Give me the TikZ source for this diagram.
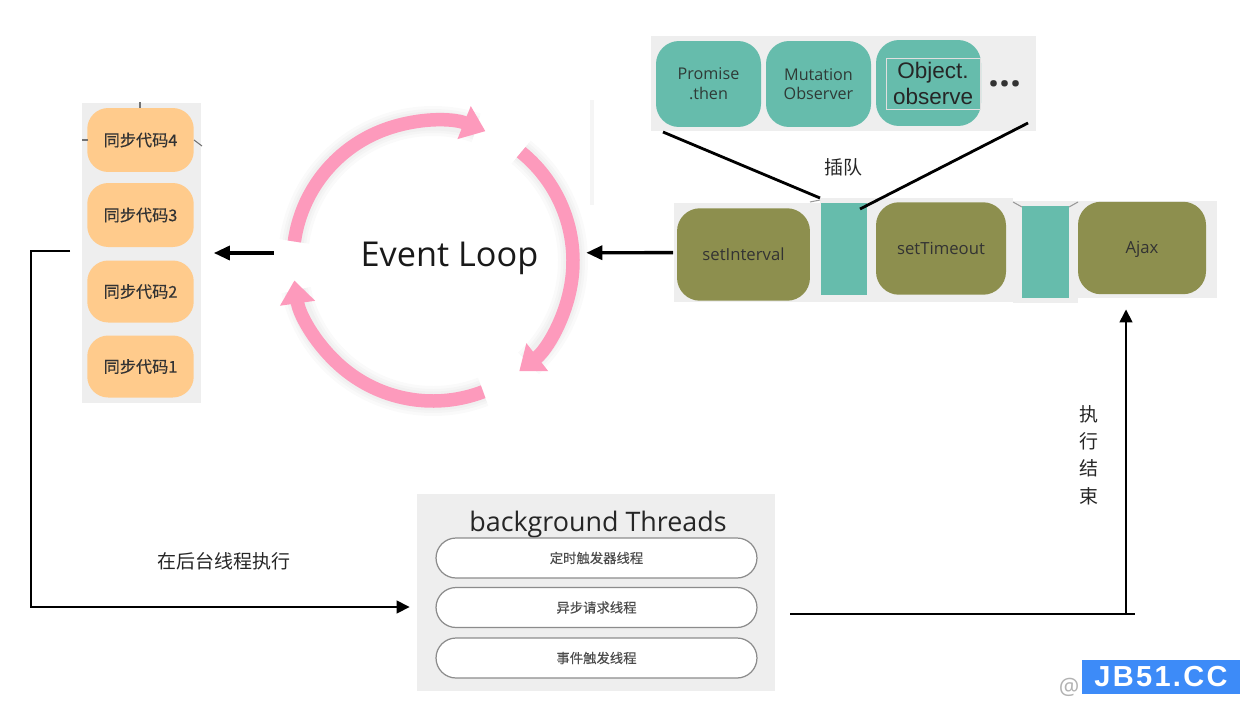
\documentclass[tikz,border=0pt]{standalone}
\usepackage{fontspec}
\setmainfont{Open Sans}
\newfontfamily\cjk{Noto Sans CJK SC}
\newfontfamily\cjkheavy[FakeBold=0.35]{Noto Sans CJK SC}
\newfontfamily\helv{Liberation Sans}
\newfontfamily\brandfont[LetterSpace=8]{Liberation Sans}
\usetikzlibrary{arrows.meta, positioning, calc}

\definecolor{panelgray}{HTML}{EEEEEE}
\definecolor{tealbox}{HTML}{66BCAC}
\definecolor{olivebox}{HTML}{8D8F4E}
\definecolor{orangebox}{HTML}{FFCB8C}
\definecolor{pinkloop}{HTML}{FD9ABC}
\definecolor{labelgray}{HTML}{2F3A36}
\definecolor{brandblue}{HTML}{3D8BF8}

\tikzset{
	panel/.style={fill=panelgray, inner sep=0pt},
	syncbox/.style={fill=orangebox, rounded corners=0.42cm, minimum width=2.13cm, minimum height=1.24cm, inner sep=0pt, text=black!80, font=\cjkheavy\fontsize{9.2}{11}\selectfont},
	microbox/.style={fill=tealbox, rounded corners=0.46cm, minimum width=2.1cm, minimum height=1.72cm, inner sep=0pt, text=labelgray, align=center, font=\fontsize{9.2}{11.2}\selectfont},
	taskbox/.style={fill=olivebox, rounded corners=0.46cm, minimum height=1.85cm, inner sep=0pt, text=black!80, text height=1.5ex, text depth=0.25ex, font=\fontsize{9.5}{11}\selectfont},
	queuebox/.style={fill=tealbox, minimum width=0.93cm, minimum height=1.84cm, inner sep=0pt},
	threadbox/.style={draw=black!45, line width=0.7pt, fill=white, rounded corners=0.4cm, minimum width=6.42cm, minimum height=0.8cm, inner sep=0pt, text=black!70, font=\cjkheavy\fontsize{7.6}{9}\selectfont},
	caption/.style={inner sep=0pt, text=black!85, align=center, font=\cjk\fontsize{10.8}{15.6}\selectfont},
	flow/.style={line width=1.9pt, -{Triangle[length=0.32cm, width=0.28cm]}},
	thinflow/.style={line width=1.5pt, -{Triangle[length=0.26cm, width=0.25cm]}},
	plainline/.style={line width=1.6pt},
	looparc/.style={line width=0.27cm, pinkloop, -{Triangle[length=0.46cm, width=0.68cm]}},
	loopshade/.style={line width=#1, black, opacity=0.018},
	strayline/.style={line width=0.6pt, black!55},
}

\begin{document}
\begin{tikzpicture}[x=0.02cm, y=-0.02cm]
	\useasboundingbox (0,0) rectangle (1240,714);

	% Panel backgrounds
	\node[panel, minimum width=2.38cm, minimum height=6.02cm] (syncPanel) at (141.5,253) {};
	\node[panel, minimum width=7.7cm, minimum height=1.9cm] (microPanel) at (843.5,83.5) {};
	\node[panel, minimum width=2.94cm, minimum height=1.98cm] (intervalPanel) at (747,252.5) {};
	\node[panel, minimum width=3.86cm, minimum height=2.08cm] (timeoutPanel) at (916.5,250) {};
	\node[panel, minimum width=1.3cm, minimum height=2.04cm] (queuePanel) at (1045.5,252) {};
	\node[panel, minimum width=2.78cm, minimum height=1.94cm] (ajaxPanel) at (1147.5,249.5) {};
	\node[panel, minimum width=7.16cm, minimum height=3.94cm] (threadPanel) at (596,592.5) {};
	\node[fill=panelgray!60, inner sep=0pt, minimum width=0.08cm, minimum height=2.1cm] (stripPanel) at (592,152.5) {};

	% Synchronous stack
	\node[syncbox, minimum height=1.28cm] (sync4) at (140.5,140) {同步代码4};
	\node[syncbox, minimum height=1.28cm] (sync3) at (140.5,215) {同步代码3};
	\node[syncbox] (sync2) at (140.5,291.5) {同步代码2};
	\node[syncbox] (sync1) at (140.5,366.5) {同步代码1};

	% Stray marks round the stack
	\coordinate (markTopA) at (140,102);
	\coordinate (markTopB) at (140,108);
	\coordinate (markLeftA) at (82,140);
	\coordinate (markLeftB) at (88,140);
	\coordinate (markRightA) at (194,140);
	\coordinate (markRightB) at (202,146);
	\draw[strayline] (markTopA) -- (markTopB);
	\draw[strayline] (markLeftA) -- (markLeftB);
	\draw[strayline] (markRightA) -- (markRightB);

	% Event loop
	\coordinate (loopCentre) at (433,261);
	\draw[loopshade=0.6cm] (loopCentre) ++(-172:140) arc[start angle=-172, end angle=-72, radius=140];
	\draw[loopshade=0.48cm] (loopCentre) ++(-172:140) arc[start angle=-172, end angle=-72, radius=140];
	\draw[loopshade=0.38cm] (loopCentre) ++(-172:140) arc[start angle=-172, end angle=-72, radius=140];
	\draw[loopshade=0.6cm] (loopCentre) ++(-51:140) arc[start angle=-51, end angle=47, radius=140];
	\draw[loopshade=0.48cm] (loopCentre) ++(-51:140) arc[start angle=-51, end angle=47, radius=140];
	\draw[loopshade=0.38cm] (loopCentre) ++(-51:140) arc[start angle=-51, end angle=47, radius=140];
	\draw[loopshade=0.6cm] (loopCentre) ++(69:140) arc[start angle=69, end angle=168, radius=140];
	\draw[loopshade=0.48cm] (loopCentre) ++(69:140) arc[start angle=69, end angle=168, radius=140];
	\draw[loopshade=0.38cm] (loopCentre) ++(69:140) arc[start angle=69, end angle=168, radius=140];
	\draw[looparc] (loopCentre) ++(-172:140) arc[start angle=-172, end angle=-68, radius=140];
	\draw[looparc] (loopCentre) ++(-51:140) arc[start angle=-51, end angle=52, radius=140];
	\draw[looparc] (loopCentre) ++(69:140) arc[start angle=69, end angle=172, radius=140];
	\node[inner sep=0pt, minimum width=6.24cm, minimum height=1cm] (loop) at (430,253) {};
	\node[inner sep=0pt, text=black!90, font=\fontsize{19.5}{22}\selectfont] (loopTitle) at (449.5,258) {Event Loop};

	% Microtasks
	\node[microbox] (promise) at (708.5,84) {Promise\\.then};
	\node[microbox] (mutation) at (818.5,84) {Mutation\\Observer};
	\node[fill=tealbox, rounded corners=0.46cm, minimum width=2.1cm, minimum height=1.72cm, inner sep=0pt] (object) at (928.5,83) {};
	\node[draw=black!12, line width=0.3pt, minimum width=1.88cm, minimum height=1.02cm, inner sep=0pt, align=center, text=black!85, font=\helv\fontsize{12.8}{14.6}\selectfont] (objectFrame) at (933,83.5) {Object.\\observe};
	\node[inner sep=0pt, font=\bfseries\fontsize{22}{22}\selectfont, text=black!80] (moreDots) at (1005,84) {...};

	% Task queue
	\node[taskbox, minimum width=2.66cm] (interval) at (743.5,254.5) {setInterval};
	\node[queuebox] (queueA) at (844,249) {};
	\node[taskbox, minimum width=2.6cm] (timeout) at (941,248.5) {setTimeout};
	\node[queuebox] (queueB) at (1045.5,252) {};
	\node[taskbox, minimum width=2.56cm] (ajax) at (1142,248) {Ajax};

	% Stray marks over the queue
	\coordinate (tickA) at (810,202);
	\coordinate (tickB) at (820,200);
	\coordinate (tickC) at (1013,202);
	\coordinate (tickD) at (1022,207);
	\coordinate (tickE) at (1069,207);
	\coordinate (tickF) at (1078,202);
	\draw[strayline, black!40] (tickA) -- (tickB);
	\draw[strayline, black!40] (tickC) -- (tickD);
	\draw[strayline, black!40] (tickE) -- (tickF);

	% Background threads
	\node[inner sep=0pt, text=black!85, font=\fontsize{15.3}{17}\selectfont] (threadTitle) at (598,525) {background Threads};
	\node[threadbox] (threadTimer) at (596.5,558) {定时触发器线程};
	\node[threadbox] (threadAsync) at (596.5,607.5) {异步请求线程};
	\node[threadbox] (threadEvent) at (596.5,658) {事件触发线程};

	% Captions
	\node[caption] (jumpLabel) at (843,167) {插队};
	\node[caption] (runLabel) at (224,561) {在后台线程执行};
	\node[caption] (doneLabel) at (1088.5,455) {执\\行\\结\\束};

	% Free line ends
	\coordinate (microLeft) at (663,132);
	\coordinate (queueLeft) at (820,198);
	\coordinate (microRight) at (1028,123);
	\coordinate (queueRight) at (860,209);
	\coordinate (syncOut) at (82,251);
	\coordinate (leftCorner) at (31,607);
	\coordinate (threadOut) at (790,614);
	\coordinate (threadEnd) at (1135,614);
	\coordinate (riseStart) at (1126,614);

	% Connections
	\draw[plainline] (microLeft) -- (queueLeft);
	\draw[plainline] (microRight) -- (queueRight);
	\draw[flow, shorten >=0.25cm] (loop) -- (syncPanel);
	\draw[flow] (intervalPanel) -- (loop);
	\draw[thinflow, shorten <=0.24cm, shorten >=0.14cm] (syncOut) -| (leftCorner) -- (threadPanel.west |- leftCorner);
	\draw[line width=1.5pt] (threadOut) -- (threadEnd);
	\draw[thinflow, shorten >=0.22cm] (riseStart) -- (riseStart |- ajaxPanel.south);

	% Watermark
	\node[inner sep=0pt, text=black!30, font=\fontsize{13}{15}\selectfont] (atSign) at (1069,687) {@};
	\node[fill=brandblue, minimum width=3.16cm, minimum height=0.68cm, inner sep=0pt, text=white, font=\brandfont\bfseries\fontsize{16.5}{18}\selectfont] (brand) at (1161,677) {JB51.CC};
\end{tikzpicture}
\end{document}
